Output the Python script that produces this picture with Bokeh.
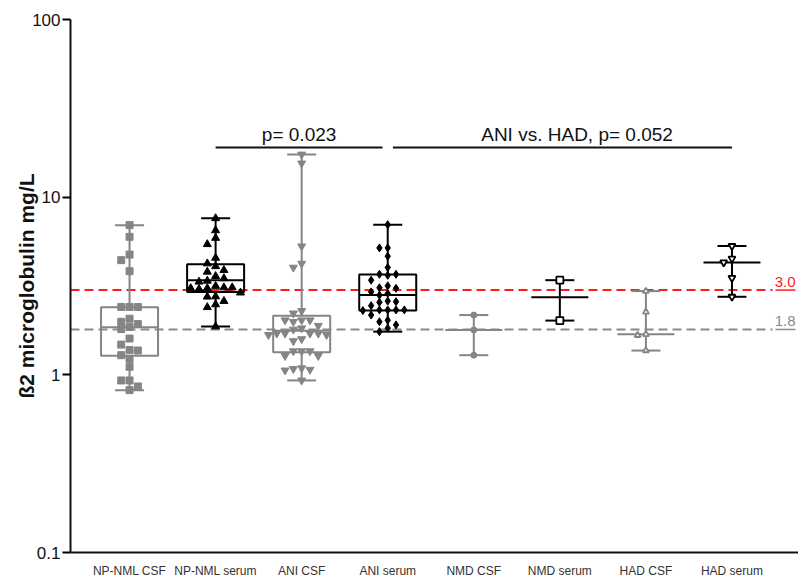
import math
from bokeh.plotting import figure
from bokeh.models import Range1d, FixedTicker, Label
from bokeh.embed import file_html
from bokeh.resources import INLINE

# ---- data (mg/L) ----
groups = ["NP-NML CSF", "NP-NML serum", "ANI CSF", "ANI serum",
          "NMD CSF", "NMD serum", "HAD CSF", "HAD serum"]

np_nml_csf = [6.96, 5.98, 4.75, 4.42, 3.83, 2.41, 2.41, 2.41, 2.07, 1.99, 1.93, 1.86,
              1.81, 1.60, 1.48, 1.38, 1.37, 1.29, 1.23, 1.11, 0.93, 0.93, 0.86, 0.82]
np_nml_serum = [7.6, 6.5, 5.89, 5.43, 4.55, 4.23, 4.08, 3.88, 3.80, 3.59, 3.49, 3.38, 3.34,
                3.16, 3.10, 3.10, 3.07, 3.07, 3.04, 2.90, 2.76, 2.75, 2.60, 2.49, 2.40, 1.87]
ani_csf = [17.4, 15.5, 5.29, 4.23, 4.02, 2.29, 2.22, 2.03, 2.03, 2.03, 1.99, 1.89, 1.83,
           1.80, 1.71, 1.71, 1.71, 1.71, 1.68, 1.68, 1.59, 1.55, 1.36, 1.36, 1.36, 1.28,
           1.28, 1.09, 1.08, 1.07, 1.06, 0.93]
ani_serum = [7.0, 5.18, 5.18, 4.65, 4.02, 3.68, 3.68, 3.63, 3.41, 3.17, 3.09, 3.07, 2.93,
             2.87, 2.81, 2.60, 2.58, 2.56, 2.45, 2.32, 2.32, 2.32, 2.32, 2.30, 2.17, 2.03,
             1.99, 1.91, 1.83, 1.75]
nmd_csf = [2.17, 1.79, 1.29]
nmd_serum = [3.41, 2.02]
had_csf = [2.96, 2.26, 1.69, 1.67, 1.37]
had_serum = [5.31, 4.51, 4.29, 3.51, 2.75]

series = [np_nml_csf, np_nml_serum, ani_csf, ani_serum,
          nmd_csf, nmd_serum, had_csf, had_serum]

medians = [1.85, 3.41, 1.77, 2.81, 1.79, 2.73, 1.69, 4.29]
box_q1 = [1.28, 2.93, 1.34, 2.30]          # first four groups are box plots
box_q3 = [2.40, 4.19, 2.15, 3.67]

ref_values = [3.0, 1.8]
ref_labels = ["3.0", "1.8"]
p_labels = ["p= 0.023", "ANI vs. HAD, p= 0.052"]

# ---- styles ----
GRAY = "#858585"
BLACK = "#000000"
colors = [GRAY, BLACK, GRAY, BLACK, GRAY, BLACK, GRAY, BLACK]
markers = ["square", "triangle", "inverted_triangle", "diamond",
           "circle", "square", "triangle", "inverted_triangle"]
filled = [True, True, True, True, True, False, False, False]
msizes = [7, 8, 8, 8, 6, 7, 6, 7]
FONT = "Liberation Sans"

W, H = 798, 580
BL, BR, BT, BB = 70, 0, 19, 28
frame_w = W - BL - BR
frame_h = H - BT - BB
spacing_px = 86.06
x_start = 1 - 59.05 / spacing_px
x_end = x_start + frame_w / spacing_px
px_per_decade = frame_h / 3.0
unit = 1.0 / spacing_px  # one screen pixel in x data units


def up(v, px):
    """value lying px screen pixels above v on the log axis"""
    return v * 10 ** (px / px_per_decade)


p = figure(width=W, height=H, y_axis_type="log",
           x_range=Range1d(x_start, x_end), y_range=Range1d(0.1, 100),
           output_backend="svg", toolbar_location=None,
           min_border_left=BL, min_border_right=BR,
           min_border_top=BT, min_border_bottom=BB)
p.outline_line_color = None
p.xgrid.visible = False
p.ygrid.visible = False
p.background_fill_color = "white"

# axes
p.xaxis.ticker = FixedTicker(ticks=list(range(1, len(groups) + 1)))
p.xaxis.major_label_overrides = {i + 1: g for i, g in enumerate(groups)}
p.xaxis.major_tick_out = 0
p.xaxis.major_tick_in = 0
p.xaxis.minor_tick_line_color = None
p.xaxis.major_label_standoff = 11
p.xaxis.major_label_text_font = FONT
p.xaxis.major_label_text_font_size = "12px"
p.xaxis.major_label_text_color = "#333333"
p.xaxis.axis_line_width = 2
p.xaxis.axis_line_color = "#111111"

p.yaxis.ticker = FixedTicker(ticks=[0.1, 1, 10, 100])
p.yaxis.major_label_overrides = {0.1: "0.1", 1: "1", 10: "10", 100: "100"}
p.yaxis.major_tick_out = 8
p.yaxis.major_tick_in = 0
p.yaxis.major_tick_line_width = 2
p.yaxis.minor_tick_line_color = None
p.yaxis.major_label_standoff = 2
p.yaxis.major_label_text_font = FONT
p.yaxis.major_label_text_font_size = "17px"
p.yaxis.major_label_text_color = "#111111"
p.yaxis.axis_line_width = 2
p.yaxis.axis_line_color = "#111111"
p.yaxis.axis_label = "\u00df2 microglobulin mg/L"
p.yaxis.axis_label_text_font = FONT
p.yaxis.axis_label_text_font_style = "bold"
p.yaxis.axis_label_text_font_size = "21px"
p.yaxis.axis_label_text_color = "#111111"
p.yaxis.axis_label_standoff = -9

# reference lines with labels
ref_colors = ["#ff1a1a", "#8a8a8a"]
dash_end = x_end - 26 * unit
for val, lab, col in zip(ref_values, ref_labels, ref_colors):
    p.line([x_start, dash_end], [val, val], line_color=col, line_width=2,
           line_dash="9 5")
    p.segment(x0=[x_end - 23 * unit], x1=[x_end - 3 * unit], y0=[val], y1=[val],
              line_color=col, line_width=1.5)
    p.add_layout(Label(x=x_end - 3 * unit, y=up(val, 8.5),
                       text=lab, text_align="right", text_baseline="middle",
                       text_font=FONT, text_font_size="15px", text_color=col))

BOX_HALF = 28.5 * unit
CAP_HALF = 14.5 * unit
STEP = 8.3 * unit


def swarm_offsets(vals, min_gap_px=7.0):
    placed = []
    offs = []
    for v in vals:
        py = px_per_decade * math.log10(v)
        for k in [0, -1, 1, -2, 2, -3, 3, -4, 4]:
            if all(s != k or abs(py - q) >= min_gap_px for q, s in placed):
                break
        placed.append((py, k))
        offs.append(k * STEP)
    return offs


for i, vals in enumerate(series):
    xc = i + 1
    col = colors[i]
    vmin, vmax = min(vals), max(vals)
    if i < len(box_q1):
        q1, q3 = box_q1[i], box_q3[i]
        p.segment(x0=[xc, xc], x1=[xc, xc], y0=[q3, vmin], y1=[vmax, q1],
                  line_color=col, line_width=2)
        p.quad(left=[xc - BOX_HALF], right=[xc + BOX_HALF], bottom=[q1], top=[q3],
               fill_color=None, line_color=col, line_width=2)
    else:
        p.segment(x0=[xc], x1=[xc], y0=[vmin], y1=[vmax],
                  line_color=col, line_width=2)
    p.segment(x0=[xc - BOX_HALF], x1=[xc + BOX_HALF], y0=[medians[i]], y1=[medians[i]],
              line_color=col, line_width=2)
    p.segment(x0=[xc - CAP_HALF, xc - CAP_HALF], x1=[xc + CAP_HALF, xc + CAP_HALF],
              y0=[vmin, vmax], y1=[vmin, vmax], line_color=col, line_width=2)

    offs = swarm_offsets(vals)
    xs = [xc + o for o in offs]
    if filled[i]:
        p.scatter(xs, vals, marker=markers[i], size=msizes[i],
                  fill_color=col, line_color=col, line_width=1)
    else:
        p.scatter(xs, vals, marker=markers[i], size=msizes[i],
                  fill_color="white", line_color=col, line_width=1.8)

# significance brackets
bracket_y = 10 ** ((frame_h - (147 - BT)) / px_per_decade - 1)
gap = 0.06
brackets = [(2, 4 - gap), (4 + gap, 8)]
text_shift = [0.0, 0.17]
for (a, b), lab, sh in zip(brackets, p_labels, text_shift):
    p.segment(x0=[a], x1=[b], y0=[bracket_y], y1=[bracket_y],
              line_color="#111111", line_width=2)
    p.add_layout(Label(x=(a + b) / 2 + sh, y=up(bracket_y, 13), text=lab,
                       text_align="center", text_baseline="middle",
                       text_font=FONT, text_font_size="19px", text_color="#111111"))

open("out.html", "w").write(file_html(p, INLINE))
